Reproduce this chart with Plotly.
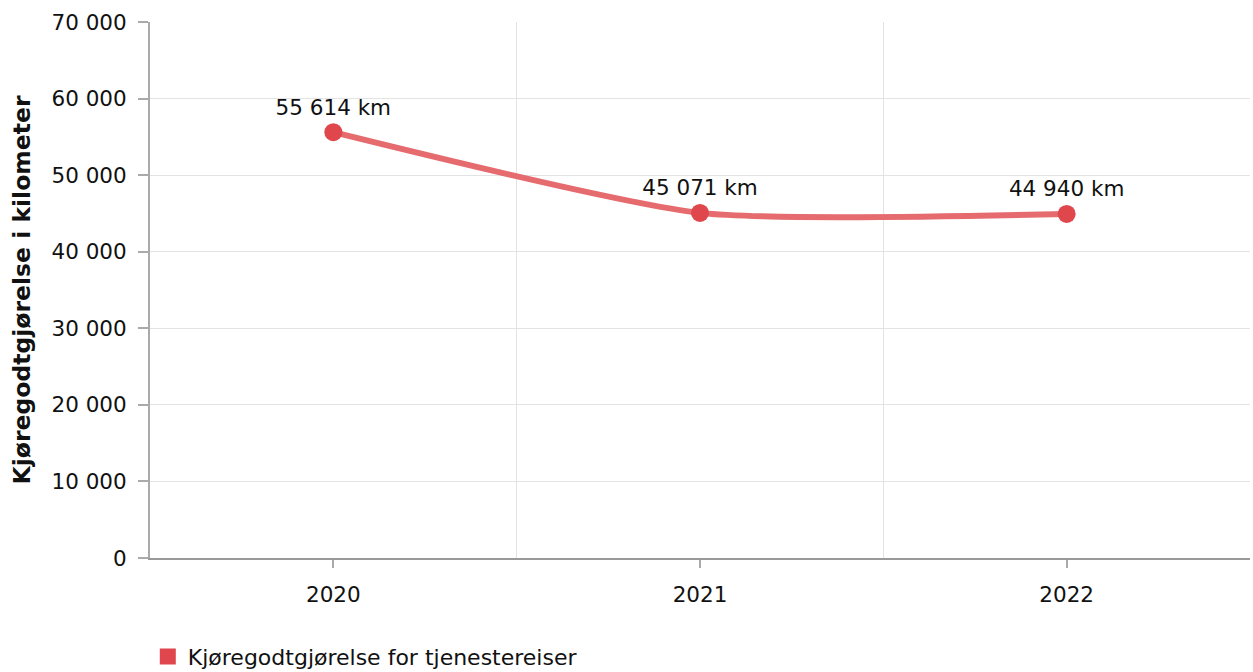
import plotly.graph_objects as go

years = [2020, 2021, 2022]
values = [55614, 45071, 44940]
series_name = "Kjøregodtgjørelse for tjenestereiser"
y_title = "Kjøregodtgjørelse i kilometer"
y_ticks = [0, 10000, 20000, 30000, 40000, 50000, 60000, 70000]

FONT = "DejaVu Sans"
FS = 21.5
line_color = "#e56b6e"
marker_color = "#e0474c"

fig = go.Figure()
fig.add_trace(go.Scatter(
    x=years, y=values, mode="lines+markers+text",
    line=dict(color=line_color, width=6, shape="spline", smoothing=0.6),
    marker=dict(color=marker_color, size=18),
    text=values, texttemplate="%{y:,} km", textposition="top center",
    textfont=dict(family=FONT, size=FS, color="#111111"),
    showlegend=False, cliponaxis=False,
))
fig.add_trace(go.Scatter(
    x=[None], y=[None], mode="markers", name=series_name,
    marker=dict(color=marker_color, size=16, symbol="square"),
    showlegend=True,
))

fig.update_layout(
    width=1253, height=672,
    margin=dict(l=150, r=3, t=22, b=114, autoexpand=False),
    paper_bgcolor="white", plot_bgcolor="white",
    separators=", ",
    font=dict(family=FONT, size=FS, color="#111111"),
    legend=dict(orientation="h", x=-0.002, xanchor="left", y=-0.145, yanchor="top",
                font=dict(family=FONT, size=22, color="#111111"),
                itemwidth=30),
    xaxis=dict(
        range=[years[0] - 0.5, years[-1] + 0.5], automargin=False,
        tickmode="array", tickvals=years, ticktext=[str(y) for y in years],
        ticks="outside", ticklen=8, tickcolor="#aaaaaa", tickwidth=1.5,
        ticklabelstandoff=8,
        showgrid=False, zeroline=False,
        showline=True, linecolor="#999999", linewidth=2,
        minor=dict(dtick=1, tick0=years[0] - 0.5, showgrid=True,
                   gridcolor="#e3e3e3", gridwidth=1, ticks=""),
        tickfont=dict(family=FONT, size=FS),
    ),
    yaxis=dict(
        range=[0, 70000], tickmode="array", tickvals=y_ticks, automargin=False,
        tickformat=",d",
        ticks="outside", ticklen=10, tickcolor="#aaaaaa", tickwidth=1.5,
        ticklabelstandoff=7,
        showgrid=True, gridcolor="#e3e3e3", gridwidth=1, zeroline=False,
        showline=True, linecolor="#aaaaaa", linewidth=2,
        tickfont=dict(family=FONT, size=FS),
        title=dict(text="<b>" + y_title + "</b>", font=dict(family=FONT, size=23.5), standoff=14),
    ),
)

fig.write_html("out.html", config={"displayModeBar": False},
               post_script="document.body.style.margin='0px';")
